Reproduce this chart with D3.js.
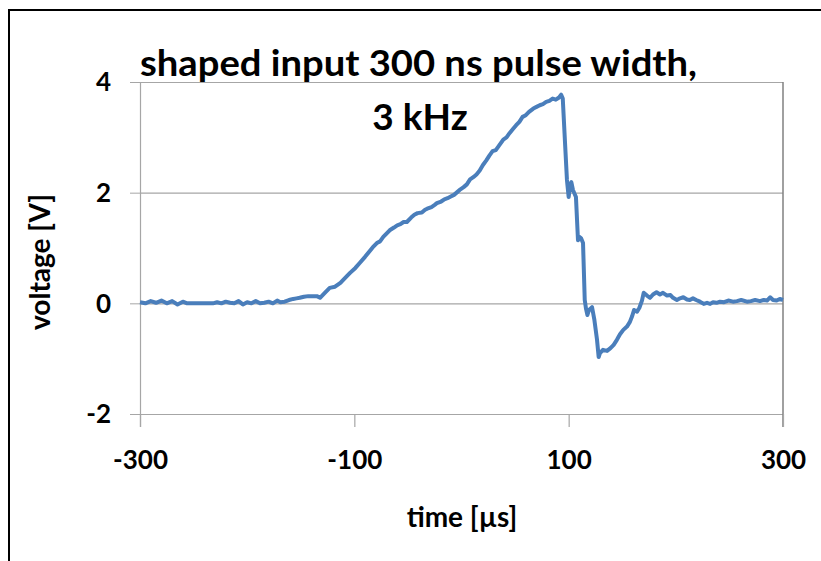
<!DOCTYPE html>
<html><head><meta charset="utf-8">
<script src="https://cdn.jsdelivr.net/npm/d3@7"></script>
<style>body{margin:0;background:#fff}svg{display:block}text{font-family:Lato,"Open Sans",sans-serif;font-weight:bold;fill:#000}</style>
</head><body>
<script>
const titleLines = ["shaped input 300 ns pulse width,", "3 kHz"];
const xLabel = "time [µs]";
const yLabel = "voltage [V]";
const xTicks = [-300, -100, 100, 300];
const yTicks = [-2, 0, 2, 4];
const timeUs = [-300,-295,-290,-285,-280,-275,-270,-265,-260,-256,-250,-245,-240,-235,-232,-228,-224,-220,-216,-212,-208,-204,-200,-196,-192,-188,-184,-180,-176,-172,-169,-165,-161,-157,-154,-151,-147,-143,-139,-135,-132,-128,-123,-118,-113,-109,-104,-99,-95,-90,-85,-82,-79,-76,-73,-70,-67,-63,-60,-57,-54,-51,-47,-44,-41,-37,-34,-32,-28,-25,-23,-19,-16,-13,-10,-7,-4,-1,2,5,8,11,14,17,20,23,26,29,32,35,39,42,45,48,51,54,57,60,63,67,70,73,76,79,82,85,88,91,93,94.5,96.6,98.4,100,101.2,102.5,104,106.8,108.7,110,111.5,113.4,115,116.2,117.5,119,121.8,124,126.4,128,129.2,132,135.8,139,142,145,147.9,151,154.4,157,159.1,161,163.8,166,168.4,170,173.1,176,178.7,182,185.2,188,191.8,195,197.4,201,203.9,207,210.4,213,216,219,222.5,226,229.1,232,234.7,238,241.2,245,249,253.3,257,261,266.4,270,274,278.5,282,285.1,288,290.7,294,297,300];
const voltageV = [0.02,0.0,0.04,0.01,0.05,0.0,0.04,-0.02,0.03,0.0,0.0,0.0,0.0,0.0,0.0,0.02,0.0,0.03,0.01,0.0,0.04,-0.02,0.02,0.0,0.04,0.0,0.01,0.03,0.0,0.05,0.02,0.03,0.06,0.08,0.09,0.10,0.12,0.13,0.13,0.13,0.10,0.18,0.28,0.30,0.37,0.45,0.55,0.64,0.73,0.84,0.96,1.03,1.09,1.12,1.20,1.26,1.32,1.37,1.41,1.43,1.47,1.47,1.55,1.60,1.63,1.64,1.69,1.71,1.74,1.78,1.81,1.84,1.88,1.90,1.93,1.96,2.01,2.06,2.10,2.15,2.24,2.28,2.33,2.40,2.50,2.58,2.67,2.75,2.77,2.85,2.96,3.00,3.08,3.15,3.22,3.28,3.37,3.40,3.46,3.52,3.55,3.58,3.60,3.64,3.66,3.70,3.68,3.72,3.77,3.70,2.90,2.23,1.92,2.10,2.19,2.05,1.92,1.14,1.20,1.18,1.09,0.06,-0.10,-0.21,-0.12,-0.07,-0.30,-0.65,-0.97,-0.90,-0.84,-0.86,-0.81,-0.75,-0.66,-0.56,-0.48,-0.42,-0.34,-0.24,-0.12,-0.15,-0.08,0.05,0.19,0.14,0.10,0.16,0.20,0.16,0.19,0.14,0.15,0.10,0.06,0.09,0.11,0.07,0.06,0.09,0.06,0.03,-0.01,0.01,-0.01,0.02,0.01,0.03,0.02,0.05,0.03,0.04,0.06,0.03,0.04,0.06,0.04,0.06,0.05,0.11,0.06,0.05,0.08,0.06,0.08];

const W = 821, H = 561;
const svg = d3.select("body").append("svg").attr("width", W).attr("height", H);
// outer frame
svg.append("rect").attr("x", 9).attr("y", 10).attr("width", 900).attr("height", 700)
  .attr("fill", "none").attr("stroke", "#000").attr("stroke-width", 2);

const x = d3.scaleLinear().domain([-300, 300]).range([140, 783]);
const y = d3.scaleLinear().domain([-2, 4]).range([414, 82]);

// horizontal gridlines with left tick marks
const gy = svg.append("g").attr("transform", "translate(140,0)")
  .call(d3.axisLeft(y).tickValues(yTicks).tickSize(10).tickFormat(""));
gy.select(".domain").remove();
gy.selectAll(".tick line").attr("stroke", "#a6a6a6").attr("stroke-width", 1);
svg.append("g").selectAll("line").data(yTicks).join("line")
  .attr("x1", 140).attr("x2", 783).attr("y1", d => y(d) + 0.5).attr("y2", d => y(d) + 0.5)
  .attr("stroke", "#a6a6a6").attr("stroke-width", 1.2);
// vertical axis line
svg.append("line").attr("x1", 140.5).attr("x2", 140.5).attr("y1", y(4)).attr("y2", y(-2) + 13)
  .attr("stroke", "#a6a6a6").attr("stroke-width", 1.2);
// right frame line
svg.append("line").attr("x1", 783).attr("x2", 783).attr("y1", y(4)).attr("y2", y(-2) + 13)
  .attr("stroke", "#808080").attr("stroke-width", 1.5);

// x ticks (below)
const gx = svg.append("g").attr("transform", `translate(0,${y(-2)})`)
  .call(d3.axisBottom(x).tickValues(xTicks).tickSize(13).tickPadding(24).tickFormat(d => String(d)));
gx.select(".domain").remove();
gx.selectAll(".tick line").attr("stroke", "#a6a6a6").attr("stroke-width", 1.2);
gx.selectAll(".tick text").style("font-size", "26px").attr("fill", "#000")
  .style("font-family", "Lato").style("font-weight", "bold");

// y tick labels
svg.append("g").selectAll("text").data(yTicks).join("text")
  .attr("x", 111).attr("y", d => y(d)).attr("dy", "0.36em").attr("text-anchor", "end")
  .style("font-size", "26px").text(d => d);

// line
const line = d3.line().x((d, i) => x(timeUs[i])).y(d => y(d));
svg.append("path").datum(voltageV).attr("d", line).attr("fill", "none")
  .attr("stroke", "#4a7ebb").attr("stroke-width", 4).attr("stroke-linejoin", "round");

// title
svg.append("text").attr("x", 140).attr("y", 76).style("font-size", "37px")
  .attr("textLength", 557).attr("lengthAdjust", "spacingAndGlyphs").text(titleLines[0]);
svg.append("text").attr("x", 420).attr("y", 130).attr("text-anchor", "middle").style("font-size", "37px").text(titleLines[1]);

// axis titles
svg.append("text").attr("x", 462).attr("y", 527).attr("text-anchor", "middle").style("font-size", "28px").text(xLabel);
svg.append("text").attr("transform", "translate(50,262) rotate(-90)").attr("text-anchor", "middle").style("font-size", "28px").text(yLabel);
</script>
</body></html>
